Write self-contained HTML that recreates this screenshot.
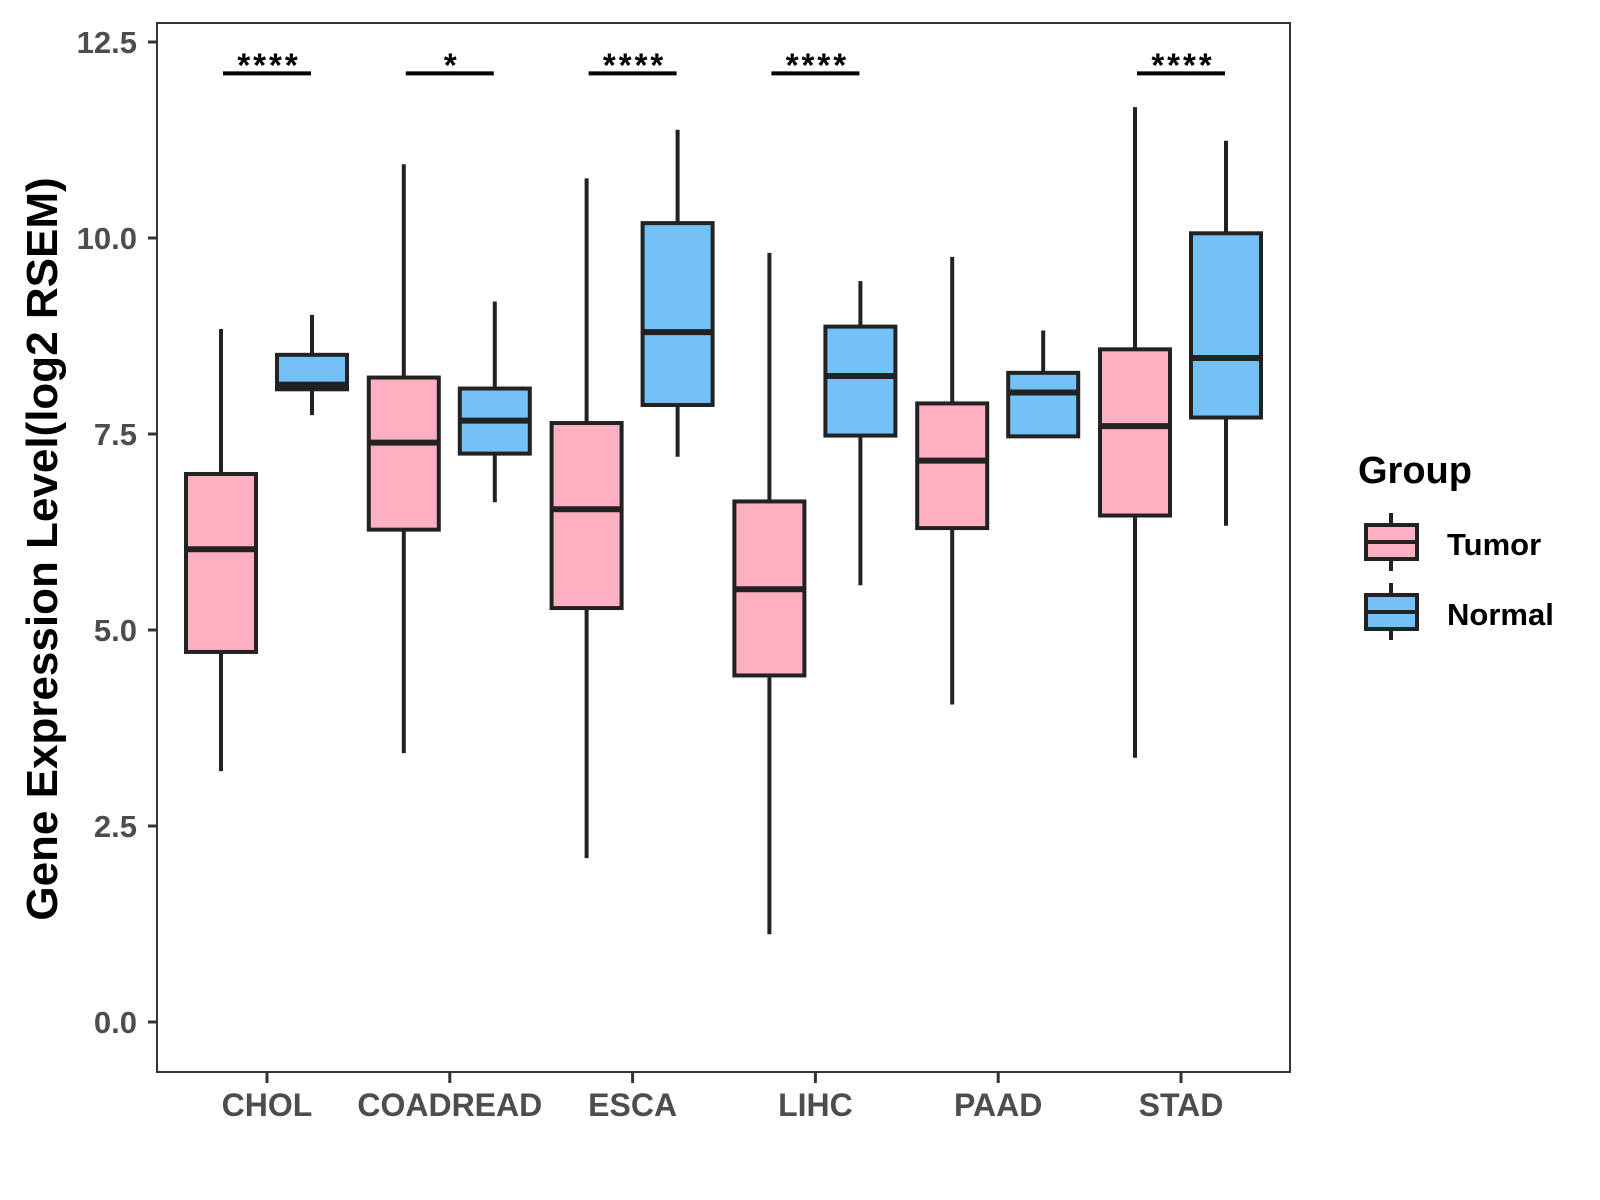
<!DOCTYPE html>
<html><head><meta charset="utf-8"><style>
body{margin:0;background:#fff}
svg{display:block;font-family:"Liberation Sans",sans-serif;font-weight:bold}
</style></head><body>
<svg id="chart" width="1600" height="1200" viewBox="0 0 1600 1200">
<rect x="157" y="23" width="1133" height="1049" fill="#fff" stroke="#333" stroke-width="2"/>
<g id="yaxis"></g>
<g id="xaxis"></g>
<g id="boxes"></g>
<g id="sig"></g>
<text x="57" y="549" transform="rotate(-90 57 549)" text-anchor="middle" font-size="44" fill="#000">Gene Expression Level(log2 RSEM)</text>
<g>
<text x="1358" y="483" font-size="38" fill="#000">Group</text>
<g>
<line x1="1391" y1="513" x2="1391" y2="571" stroke="#222" stroke-width="4"/>
<rect x="1366" y="525" width="51" height="34" fill="#FCB0C1" stroke="#222" stroke-width="4"/>
<line x1="1366" y1="542" x2="1417" y2="542" stroke="#222" stroke-width="4"/>
<text x="1447" y="555" font-size="31" fill="#000">Tumor</text>
</g>
<g>
<line x1="1391" y1="583" x2="1391" y2="640" stroke="#222" stroke-width="4"/>
<rect x="1366" y="595" width="51" height="34" fill="#74C1F8" stroke="#222" stroke-width="4"/>
<line x1="1366" y1="612" x2="1417" y2="612" stroke="#222" stroke-width="4"/>
<text x="1447" y="625" font-size="31" fill="#000">Normal</text>
</g>
</g>
</svg>
<script>
const categories=["CHOL","COADREAD","ESCA","LIHC","PAAD","STAD"];
// [low, q1, median, q3, high]
const tumorStats=[[3.20,4.72,6.03,6.99,8.84],[3.43,6.28,7.39,8.22,10.94],[2.09,5.28,6.54,7.64,10.76],[1.12,4.42,5.52,6.64,9.81],[4.05,6.30,7.16,7.89,9.76],[3.37,6.46,7.60,8.58,11.67]];
const normalStats=[[7.74,8.07,8.13,8.51,9.02],[6.63,7.25,7.67,8.08,9.19],[7.21,7.87,8.80,10.19,11.38],[5.57,7.48,8.24,8.87,9.45],[7.47,7.47,8.03,8.28,8.82],[6.33,7.71,8.47,10.06,11.24]];
const yTicks=[0,2.5,5,7.5,10,12.5];
const yTickLabels=["0.0","2.5","5.0","7.5","10.0","12.5"];
const sigLabels=["****","*","****","****","","****"];
const sigLevel=12.1;
const NS="http://www.w3.org/2000/svg";
function y(v){return 1022-v*78.4;}
function x(i){return 267+i*182.8;}
function el(tag,attrs,parent){const e=document.createElementNS(NS,tag);for(const k in attrs)e.setAttribute(k,attrs[k]);parent.appendChild(e);return e;}
const ya=document.getElementById('yaxis'),xa=document.getElementById('xaxis'),bx=document.getElementById('boxes'),sg=document.getElementById('sig');
yTicks.forEach((t,i)=>{
  const l=el('line',{x1:148,x2:157,y1:y(t),y2:y(t),stroke:'#333','stroke-width':3},ya);
  
  
  const tx=el('text',{x:137,y:y(t)+11,'text-anchor':'end','font-size':31,fill:'#4d4d4d'},ya);
  tx.textContent=yTickLabels[i];
  
  
});
categories.forEach((c,i)=>{
  const l=el('line',{x1:x(i),x2:x(i),y1:1072,y2:1083,stroke:'#333','stroke-width':3},xa);
  
  
  const tx=el('text',{x:x(i),y:1116,'text-anchor':'middle','font-size':32,fill:'#4d4d4d'},xa);
  tx.textContent=c;
  
  
});
function drawBox(s,cx,fill,name){
  const g=el('g',{},bx);
  
  
  el('line',{x1:cx,x2:cx,y1:y(s[4]),y2:y(s[0]),stroke:'#222','stroke-width':4},g);
  el('rect',{x:cx-35,y:y(s[3]),width:70,height:Math.max(0.1,y(s[1])-y(s[3])),fill:fill,stroke:'#222','stroke-width':4},g);
  el('line',{x1:cx-35,x2:cx+35,y1:y(s[2]),y2:y(s[2]),stroke:'#222','stroke-width':6},g);
}
categories.forEach((c,i)=>{
  drawBox(tumorStats[i],x(i)-46,'#FCB0C1','box-tumor-'+c.toLowerCase());
  drawBox(normalStats[i],x(i)+45,'#74C1F8','box-normal-'+c.toLowerCase());
  if(sigLabels[i]){
    const g=el('g',{},sg);
    
    
    el('line',{x1:x(i)-44,x2:x(i)+44,y1:y(sigLevel),y2:y(sigLevel),stroke:'#000','stroke-width':4},g);
    const t=el('text',{x:x(i)+2,y:y(sigLevel)+3,'text-anchor':'middle','font-size':33,'letter-spacing':3,fill:'#000'},g);
    t.textContent=sigLabels[i];
  }
});
</script>
</body></html>
